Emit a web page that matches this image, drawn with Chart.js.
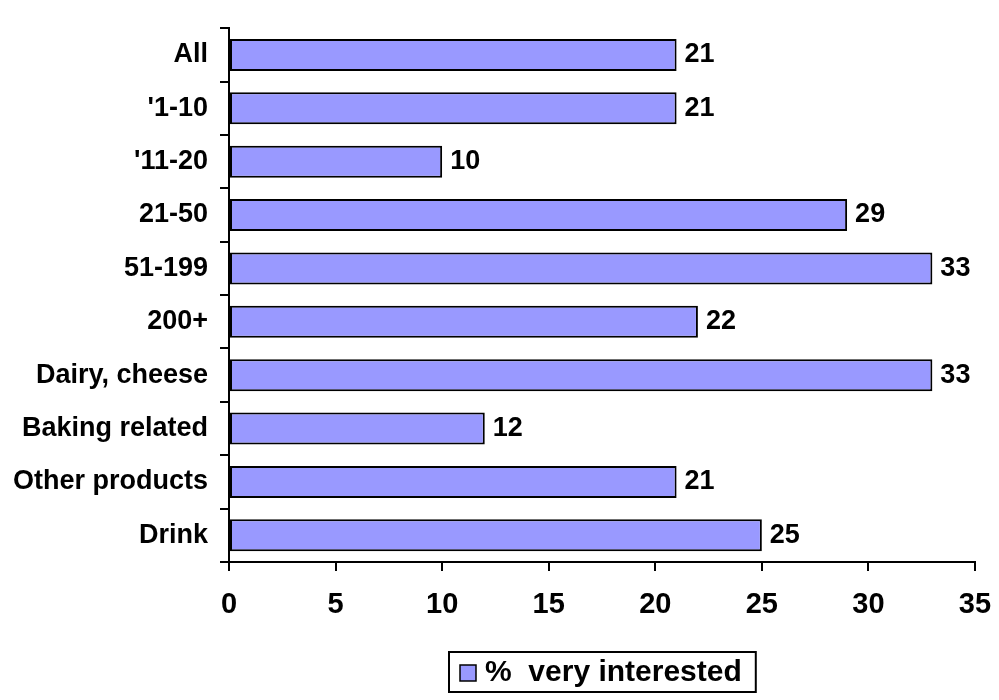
<!DOCTYPE html>
<html>
<head>
<meta charset="utf-8">
<script src="https://cdn.jsdelivr.net/npm/chart.js@4/dist/chart.umd.min.js"></script>
<style>
  html, body { margin: 0; padding: 0; background: #fff; }
  #wrap { width: 999px; height: 700px; }
</style>
</head>
<body>
<div id="wrap"><canvas id="c" width="999" height="700"></canvas></div>
<script>
const categories = ['All', "'1-10", "'11-20", '21-50', '51-199', '200+', 'Dairy, cheese', 'Baking related', 'Other products', 'Drink'];
const veryInterested = [21, 21, 10, 29, 33, 22, 33, 12, 21, 25];
const seriesName = '%  very interested';
const xTicks = [0, 5, 10, 15, 20, 25, 30, 35];

const FONT = "'Liberation Sans', Arial, sans-serif";
const barFill = '#9999FF';

// Writes each bar's value just past its end
const valueLabels = {
  id: 'valueLabels',
  afterDatasetsDraw(chart) {
    const ctx = chart.ctx;
    const meta = chart.getDatasetMeta(0);
    ctx.save();
    ctx.font = 'bold 27px ' + FONT;
    ctx.fillStyle = '#000';
    ctx.textAlign = 'left';
    ctx.textBaseline = 'middle';
    meta.data.forEach((bar, i) => {
      ctx.fillText(String(chart.data.datasets[0].data[i]), bar.x + 8, bar.y);
    });
    ctx.restore();
  }
};

// Framed legend below the axis, centred under the plot area
const framedLegend = {
  id: 'framedLegend',
  afterDraw(chart) {
    const ds = chart.data.datasets[0];
    const ctx = chart.ctx;
    const area = chart.chartArea;
    ctx.save();
    ctx.font = 'bold 30px ' + FONT;
    const tw = ctx.measureText(ds.label).width;
    const padL = 11, sw = 16, gap = 9, padR = 14, h = 40;
    const w = padL + sw + gap + tw + padR;
    const left = Math.round((area.left + area.right) / 2 - w / 2);
    const top = chart.height - 48;
    const cy = top + h / 2;
    ctx.strokeStyle = '#000';
    ctx.lineWidth = 2;
    ctx.strokeRect(left, top, w, h);
    ctx.fillStyle = ds.backgroundColor;
    ctx.fillRect(left + padL, cy - sw / 2 + 1, sw, sw);
    ctx.lineWidth = 1.5;
    ctx.strokeRect(left + padL, cy - sw / 2 + 1, sw, sw);
    ctx.fillStyle = '#000';
    ctx.textAlign = 'left';
    ctx.textBaseline = 'middle';
    ctx.fillText(ds.label, left + padL + sw + gap, cy + 1);
    ctx.restore();
  }
};

new Chart(document.getElementById('c'), {
  type: 'bar',
  data: {
    labels: categories,
    datasets: [{
      label: seriesName,
      data: veryInterested,
      backgroundColor: barFill,
      borderColor: '#000',
      borderWidth: 2,
      borderSkipped: false,
      barPercentage: 0.6,
      categoryPercentage: 1.0
    }]
  },
  options: {
    indexAxis: 'y',
    responsive: false,
    animation: false,
    devicePixelRatio: 1,
    layout: { padding: { left: 0, right: 24, top: 12, bottom: 48 } },
    scales: {
      x: {
        min: 0,
        max: 35,
        afterBuildTicks(scale) { scale.ticks = xTicks.map(v => ({ value: v })); },
        afterFit(scale) {
          scale.height = 90;
          scale.paddingLeft = 0;
          scale.paddingRight = 0;
        },
        border: { display: true, color: '#000', width: 2 },
        grid: { drawOnChartArea: false, drawTicks: true, tickLength: 9, color: '#000', lineWidth: 2 },
        ticks: { color: '#000', padding: 17, font: { family: FONT, size: 29, weight: 'bold' } }
      },
      y: {
        afterFit(scale) { scale.width = 229; },
        border: { display: true, color: '#000', width: 2 },
        grid: { drawOnChartArea: false, drawTicks: true, tickLength: 9, color: '#000', lineWidth: 2, offset: true },
        ticks: { color: '#000', padding: 12, font: { family: FONT, size: 27, weight: 'bold' } }
      }
    },
    plugins: {
      legend: { display: false },
      tooltip: { enabled: false }
    }
  },
  plugins: [valueLabels, framedLegend]
});
</script>
</body>
</html>
